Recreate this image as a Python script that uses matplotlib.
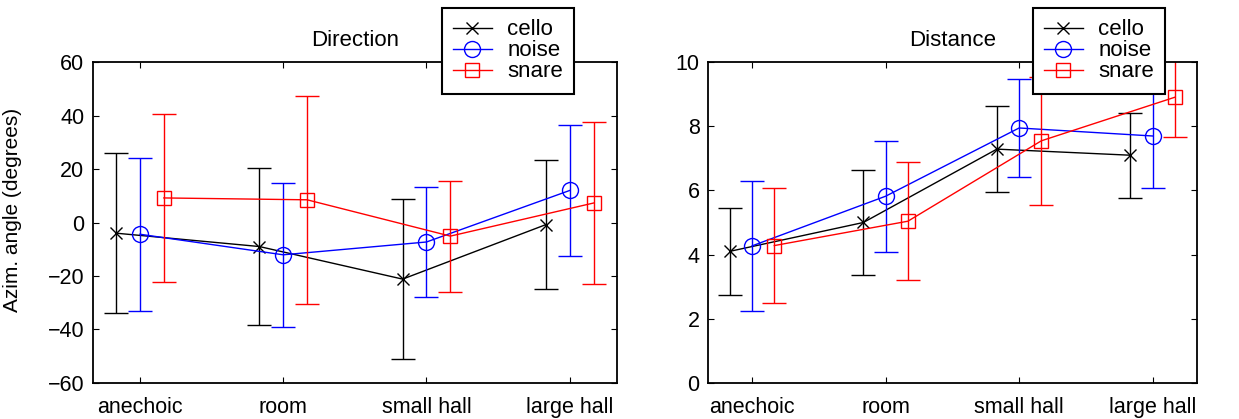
import matplotlib
matplotlib.use("Agg")
import matplotlib.pyplot as plt
import numpy as np

plt.rcParams['font.family'] = ['Liberation Sans', 'DejaVu Sans']
plt.rcParams['font.size'] = 15.5

categories = ["anechoic", "room", "small hall", "large hall"]
series = ["cello", "noise", "snare"]

dir_mean = {
    "cello": [-4.0, -9.0, -21.2, -0.8],
    "noise": [-4.4, -12.1, -7.3, 12.0],
    "snare": [9.2, 8.5, -5.1, 7.3],
}
dir_err = {
    "cello": [30.0, 29.3, 30.0, 24.2],
    "noise": [28.7, 27.0, 20.6, 24.4],
    "snare": [31.3, 39.0, 20.8, 30.5],
}
dist_mean = {
    "cello": [4.10, 5.00, 7.29, 7.10],
    "noise": [4.27, 5.82, 7.95, 7.70],
    "snare": [4.28, 5.04, 7.55, 8.91],
}
dist_err = {
    "cello": [1.36, 1.64, 1.34, 1.33],
    "noise": [2.03, 1.73, 1.52, 1.63],
    "snare": [1.79, 1.84, 2.00, 1.23],
}

colors = {"cello": "black", "noise": (0, 0, 1), "snare": (1, 0, 0)}
markers = {"cello": "x", "noise": "o", "snare": "s"}
msizes = {"cello": 9, "noise": 11.5, "snare": 10}
offsets = {"cello": -1/6, "noise": 0.0, "snare": 1/6}

fig = plt.figure(figsize=(12.39, 4.19), dpi=100)
ax1 = fig.add_axes([92.7/1239, 36.3/419, (617-92.7)/1239, 320.4/419])
ax2 = fig.add_axes([708/1239, 36.3/419, (1196.7-708)/1239, 320.4/419])

def draw(ax, means, errs, title, ylim, yticks, legx):
    x = np.arange(1, len(categories) + 1)
    handles = []
    for s in series:
        xs = x + offsets[s]
        ax.errorbar(xs, means[s], yerr=errs[s], fmt='none', ecolor=colors[s],
                    elinewidth=1.0, capsize=8.3, capthick=1.0)
        h, = ax.plot(xs, means[s], color=colors[s], lw=1.0, marker=markers[s],
                     ms=msizes[s], mfc='none', mec=colors[s], mew=1.0, label=s)
        handles.append(h)
    ax.set_xlim(0.67, 4.33)
    ax.set_ylim(*ylim)
    ax.set_yticks(yticks)
    ax.set_xticks(x)
    ax.set_xticklabels(categories)
    ax.tick_params(direction='in', length=4.5, width=0.8, top=True, right=True,
                   labelsize=15.5)
    ax.tick_params(axis='x', pad=10)
    ax.tick_params(axis='y', pad=6)
    for sp in ax.spines.values():
        sp.set_linewidth(1.3)
    ax.set_title(title, fontsize=16, pad=12)
    leg = ax.legend(handles=handles, loc='upper left',
                    bbox_to_anchor=(legx / 1239, 1 - 8.3 / 419),
                    bbox_transform=fig.transFigure, borderaxespad=0,
                    fancybox=False, framealpha=1, edgecolor='black',
                    fontsize=16, labelspacing=0.0, handlelength=1.75,
                    handletextpad=0.7, borderpad=0.5)
    leg.get_frame().set_linewidth(1.5)
    return ax

draw(ax1, dir_mean, dir_err, "Direction", (-60, 60), np.arange(-60, 61, 20), 441.7)
ax1.set_ylabel("Azim. angle (degrees)", fontsize=15)
ax1.yaxis.set_label_coords(22 / 1239, 0.5, transform=fig.transFigure)
draw(ax2, dist_mean, dist_err, "Distance", (0, 10), np.arange(0, 11, 2), 1032.7)

fig.savefig("out.png", dpi=100)
